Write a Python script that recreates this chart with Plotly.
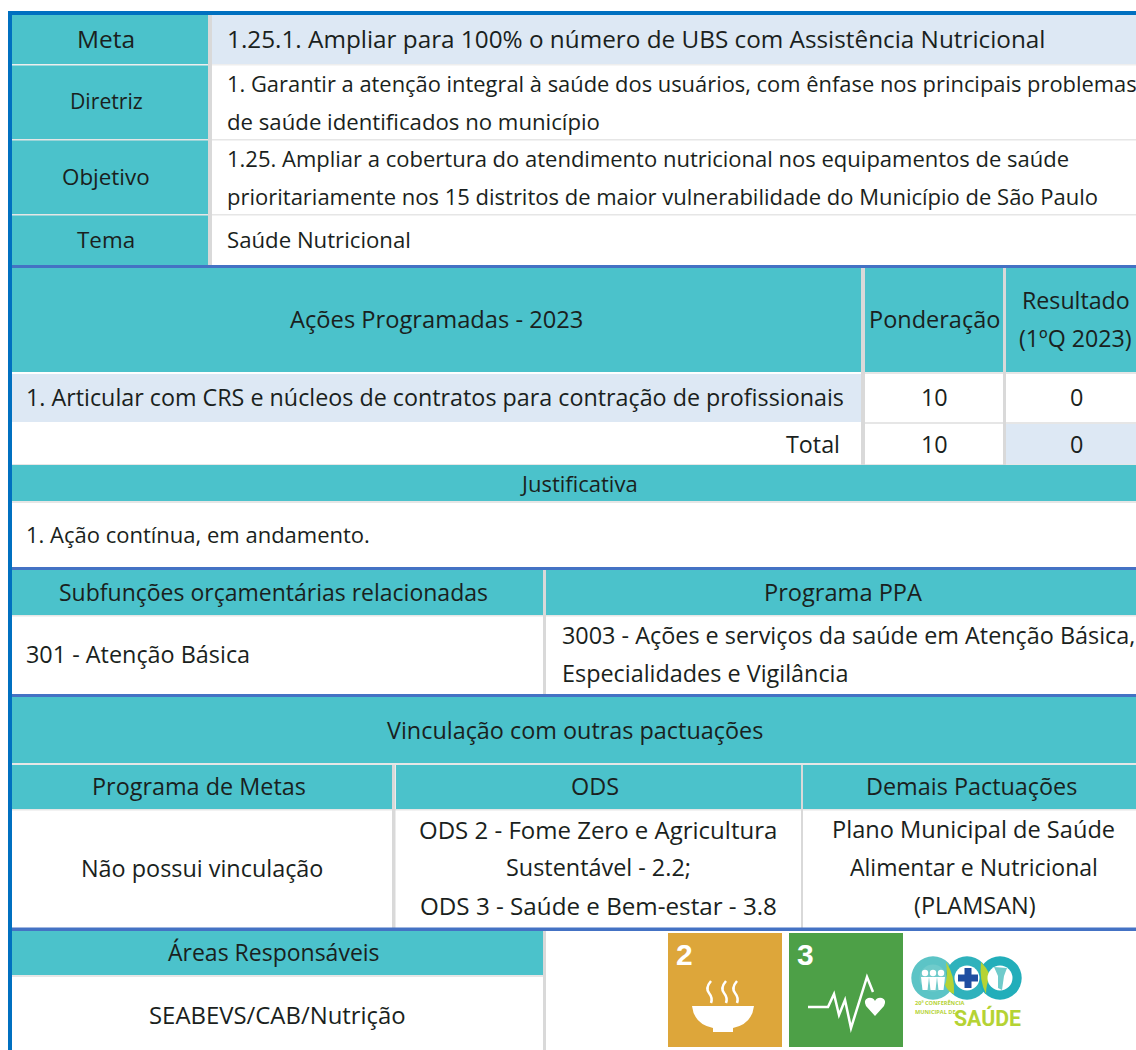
import plotly.graph_objects as go

FONT = "Open Sans"
TEAL = "#4BC2CB"
LIGHT = "#DDE8F4"
GREY = "#D9D9D9"
HAIR = "#E6E6E6"
BLUE = "#4472C4"
EDGE = "#0070C0"
INK = "#1A1F20"

# ---- table text -----------------------------------------------------------
row_labels = ["Meta", "Diretriz", "Objetivo", "Tema"]
meta_text = ["1.25.1. Ampliar para 100% o número de UBS com Assistência Nutricional"]
diretriz_text = ["1. Garantir a atenção integral à saúde dos usuários, com ênfase nos principais problemas",
                 "de saúde identificados no município"]
objetivo_text = ["1.25. Ampliar a cobertura do atendimento nutricional nos equipamentos de saúde",
                 "prioritariamente nos 15 distritos de maior vulnerabilidade do Município de São Paulo"]
tema_text = ["Saúde Nutricional"]
acoes_header = "Ações Programadas - 2023"
ponderacao_header = "Ponderação"
resultado_header = ["Resultado", "(1ºQ 2023)"]
acao_1 = "1. Articular com CRS e núcleos de contratos para contração de profissionais"
total_label = "Total"
ponderacao_values = ["10", "10"]
resultado_values = ["0", "0"]
justificativa_header = "Justificativa"
justificativa_text = "1. Ação contínua, em andamento."
subfuncoes_header = "Subfunções orçamentárias relacionadas"
ppa_header = "Programa PPA"
subfuncoes_text = "301 - Atenção Básica"
ppa_text = ["3003 - Ações e serviços da saúde em Atenção Básica,", "Especialidades e Vigilância"]
vinculacao_header = "Vinculação com outras pactuações"
metas_header = "Programa de Metas"
ods_header = "ODS"
demais_header = "Demais Pactuações"
metas_text = "Não possui vinculação"
ods_text = ["ODS 2 - Fome Zero e Agricultura", "Sustentável - 2.2;", "ODS 3 - Saúde e Bem-estar - 3.8"]
demais_text = ["Plano Municipal de Saúde", "Alimentar e Nutricional", "(PLAMSAN)"]
areas_header = "Áreas Responsáveis"
areas_text = "SEABEVS/CAB/Nutrição"
icon_numbers = ["2", "3"]
logo_lines = ["20ª CONFERÊNCIA", "MUNICIPAL DE"]
logo_word = "SAÚDE"

shapes, notes = [], []


def rect(x0, y0, x1, y1, color, layer="below"):
    shapes.append(dict(type="rect", xref="x", yref="y", x0=x0, y0=y0, x1=x1, y1=y1,
                       fillcolor=color, line=dict(width=0), layer=layer))


def circle(cx, cy, r, color):
    shapes.append(dict(type="circle", xref="x", yref="y", x0=cx - r, y0=cy - r, x1=cx + r, y1=cy + r,
                       fillcolor=color, line=dict(width=0)))


def path(d, fill=None, stroke=None, width=0):
    s = dict(type="path", xref="x", yref="y", path=d, line=dict(width=width, color=stroke or "rgba(0,0,0,0)"))
    if fill:
        s["fillcolor"] = fill
    shapes.append(s)


def text(x, y, s, size=23.4, anchor="center", color=INK, family=FONT, weight=None):
    font = dict(family=family, size=size, color=color)
    if weight:
        font["weight"] = weight
    notes.append(dict(x=x, y=y - 1, xref="x", yref="y", text=s, showarrow=False, xanchor=anchor,
                      yanchor="middle", font=font, align=anchor))


W = 1136
H = 1050

# fills
rect(12, 15, 208, 265, TEAL)
rect(212, 15, W, 64, LIGHT)
rect(12, 268, 861, 372, TEAL)
rect(865, 268, 1003, 372, TEAL)
rect(1006, 268, W, 372, TEAL)
rect(12, 374, 861, 422, LIGHT)
rect(1006, 424, W, 464, LIGHT)
rect(12, 465, W, 501, TEAL)
rect(12, 570, 543, 615, TEAL)
rect(546, 570, W, 615, TEAL)
rect(12, 697, W, 763, TEAL)
rect(12, 765, 392, 809, TEAL)
rect(396, 765, 801, 809, TEAL)
rect(803, 765, W, 809, TEAL)
rect(12, 931, 543, 975, TEAL)

# hairlines
for y0, y1, c, xa, xb in [
    (64, 65.5, "#EEEEEE", 12, W), (139, 140.5, HAIR, 12, W), (214, 215.5, HAIR, 12, W),
    (372, 374, HAIR, 865, W), (422, 424, HAIR, 865, W), (464, 465, HAIR, 12, W),
    (501, 503, HAIR, 12, W), (615, 616.5, HAIR, 12, W), (763, 765, HAIR, 12, W),
    (809, 810.5, HAIR, 12, W), (975, 977, HAIR, 12, 543),
]:
    rect(xa, y0, xb, y1, c)

# vertical separators
for x0, x1, y0, y1 in [
    (208, 212, 15, 268), (861, 865, 268, 465), (1003, 1006, 268, 465),
    (543, 546, 570, 697), (392, 395.5, 765, 931), (801, 803, 765, 931), (543, 546, 931, H),
]:
    rect(x0, y0, x1, y1, GREY)

# blue rules and outer edge
for y0, y1 in [(265, 268), (567, 570), (694, 697), (927.5, 931)]:
    rect(12, y0, W, y1, BLUE)
rect(8, 11, W, 15, EDGE)
rect(8, 11, 12, H, EDGE)

# labels, column one
for lab, y, sz in zip(row_labels, [39, 101, 177, 240], [24.5, 21.2, 22.4, 22.4]):
    text(106, y, lab, size=sz)

LX = 225
text(LX, 39, meta_text[0], anchor="left", size=24.3)
for s, y, sz in zip(diretriz_text, [84, 122], [21.9, 22.2]):
    text(LX, y, s, anchor="left", size=sz)
for s, y in zip(objetivo_text, [159, 197]):
    text(LX, y, s, anchor="left", size=22.0)
text(LX, 240, tema_text[0], anchor="left", size=22.2)

text(436.5, 320, acoes_header, size=23.7)
text(934.5, 320, ponderacao_header, size=23.5)
for s, y in zip(resultado_header, [301, 339]):
    text(1075.5, y, s, size=23.2)
text(24, 398, acao_1, anchor="left", size=23.3)
text(842, 445, total_label, anchor="right", size=23.3)
for v, y in zip(ponderacao_values, [398, 445]):
    text(934, y, v)
for v, y in zip(resultado_values, [398, 445]):
    text(1076, y, v)

text(579, 484, justificativa_header, size=22)
text(24, 535, justificativa_text, anchor="left", size=22)

text(273.5, 592.5, subfuncoes_header, size=23)
text(842.5, 592.5, ppa_header, size=23.6)
text(24, 655, subfuncoes_text, anchor="left")
for s, y in zip(ppa_text, [636, 674]):
    text(560, y, s, anchor="left")

text(575, 730.5, vinculacao_header)
text(198.5, 787, metas_header)
text(595, 787, ods_header)
text(971, 787, demais_header)
text(202, 868.5, metas_text)
for s, y, sz in zip(ods_text, [830, 868, 906], [24.0, 23.4, 24.2]):
    text(598, y, s, size=sz)
for s, y, sz, cx in zip(demais_text, [830, 868, 906], [23.6, 23.0, 23.5], [973.5, 974, 975]):
    text(cx, y, s, size=sz)
text(274, 952.5, areas_header, size=23)
text(277, 1015.5, areas_text, size=23.9)

# SDG 2 tile
rect(668, 933, 782, 1047, "#DDA63A", "above")
text(684, 955, icon_numbers[0], size=30, color="white", family="Liberation Sans", weight="bold")
path("M692,1006 L754,1006 Q752,1024 733,1028 L733,1032 L713,1032 L713,1028 Q694,1024 692,1006 Z", fill="white")
for sx in [0, 15, 26]:
    path(f"M{711 + sx},981 Q{705 + sx},988 {709 + sx},993 Q{713 + sx},998 {711 + sx},1003",
         stroke="white", width=2.5)

# SDG 3 tile
rect(789, 933, 903, 1047, "#4DA047", "above")
text(805, 955, icon_numbers[1], size=30, color="white", family="Liberation Sans", weight="bold")
path("M808,1007 L828,1007 L834,994 L839,1015 L845,1000 L851,1028 L867,977 L873,992",
     stroke="white", width=2.5)
path("M875,1016 L866,1006 Q863,1000 868,998 Q873,997 875,1001 Q877,997 882,998 Q887,1000 884,1006 Z", fill="white")

# conference logo
for cx, c in [(933, "#5CC4C6"), (967, "#2FB2BC"), (1000, "#22AEBA")]:
    circle(cx, 978, 21.7, c)
path("M946,962 Q955,975 954,994 Q948,992 945,985 Q948,974 946,962 Z", fill="#B5D334")
path("M986,994 Q979,980 981,962 Q987,968 990,975 Q986,985 986,994 Z", fill="#B5D334")
circle(967, 978, 12.5, "white")
circle(1000, 978, 12.5, "white")
circle(933, 978, 13.5, "#6FCBCB")
for cx in [925, 933, 941]:
    circle(cx, 973, 3.2, "white")
    path(f"M{cx - 4},977 L{cx + 4},977 L{cx + 2.5},990 L{cx - 2.5},990 Z", fill="white")
rect(964.5, 968, 971.5, 988, "#1F4EA1", "above")
rect(958, 974.5, 978, 981.5, "#1F4EA1", "above")
path("M994,967 L1007,968 L1004,976 L1002,990 L998,988 L998,976 Z", fill="#6FCBCB")
for s, y in zip(logo_lines, [1003, 1012]):
    text(912.5, y + 1, s, size=5.6, anchor="left", color="#B5D334", weight="bold")
text(987.5, 1018.5, logo_word, size=21.3, color="#B5D334", family="Roboto", weight="bold")

fig = go.Figure()
fig.update_layout(
    width=W, height=H, margin=dict(l=0, r=0, t=0, b=0),
    paper_bgcolor="white", plot_bgcolor="white", showlegend=False,
    xaxis=dict(range=[0, W], visible=False, fixedrange=True),
    yaxis=dict(range=[H, 0], visible=False, fixedrange=True),
    shapes=shapes, annotations=notes,
)
fig.write_html("out.html", config={"displayModeBar": False},
               post_script="document.body.style.margin='0';document.documentElement.style.overflow='hidden';")
